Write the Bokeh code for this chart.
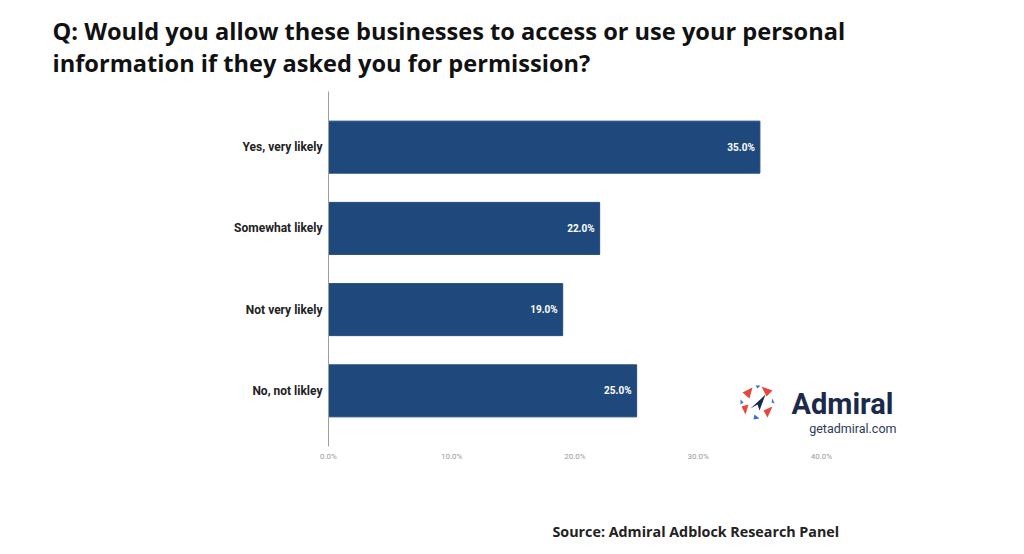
from bokeh.plotting import figure
from bokeh.models import (ColumnDataSource, FactorRange, Range1d, Label, Title,
                          FixedTicker, PolyAnnotation, LabelSet)
from bokeh.core.properties import value
from bokeh.embed import file_html
from bokeh.resources import INLINE

# ---- data ----
categories = ["Yes, very likely", "Somewhat likely", "Not very likely", "No, not likley"]
values = [35.0, 22.0, 19.0, 25.0]
tick_values = [0, 10, 20, 30, 40]
tick_labels = ["0.0%", "10.0%", "20.0%", "30.0%", "40.0%"]
title_lines = ["Q: Would you allow these businesses to access or use your personal",
               "information if they asked you for permission?"]
source_text = "Source:  Admiral Adblock Research Panel"

BAR = "#1f497d"
FRAME_LEFT = 328
PX_PER_UNIT = (821 - 328) / 40.0

src = ColumnDataSource(dict(
    cat=categories,
    val=values,
    lab=["%.1f%%" % v for v in values],
))

p = figure(
    width=1024, height=554, title=None,
    y_range=FactorRange(factors=list(reversed(categories)),
                        range_padding=0.185, range_padding_units="absolute"),
    x_range=Range1d(0, (1024 - FRAME_LEFT) / PX_PER_UNIT),
    output_backend="svg", toolbar_location=None,
    min_border_left=FRAME_LEFT, min_border_right=0,
    min_border_top=91, min_border_bottom=108,
)
p.outline_line_color = None
p.background_fill_color = "white"
p.border_fill_color = "white"
p.xgrid.visible = False
p.ygrid.visible = False

p.hbar(y="cat", right="val", left=0, height=0.64, source=src,
       fill_color=BAR, line_color=BAR)

p.add_layout(LabelSet(x="val", y="cat", text="lab", source=src,
                      x_offset=-5, text_align="right", text_baseline="middle",
                      text_color="white", text_font=value("Roboto"),
                      text_font_style="bold", text_font_size="10px"))

# y axis
ya = p.yaxis[0]
ya.axis_line_color = "#9e9e9e"
ya.axis_line_width = 1
ya.major_tick_line_color = None
ya.minor_tick_line_color = None
ya.major_tick_out = 0
ya.major_tick_in = 0
ya.major_label_standoff = 6
ya.major_label_text_font = "Roboto"
ya.major_label_text_font_style = "bold"
ya.major_label_text_font_size = "12px"
ya.major_label_text_color = "#222222"

# x axis
xa = p.xaxis[0]
xa.ticker = FixedTicker(ticks=tick_values)
xa.major_label_overrides = {t: l for t, l in zip(tick_values, tick_labels)}
xa.axis_line_color = None
xa.major_tick_line_color = None
xa.minor_tick_line_color = None
xa.major_tick_out = 0
xa.major_tick_in = 0
xa.major_label_standoff = 5
xa.major_label_text_font = "Roboto"
xa.major_label_text_font_size = "8px"
xa.major_label_text_color = "#9a9a9a"

# title (side panel)
p.add_layout(Title(text="\n".join(title_lines), align="left", offset=52 - FRAME_LEFT,
                   standoff=24, text_font="Open Sans", text_font_style="bold",
                   text_font_size="23.6px", text_line_height=1.03,
                   text_color="#111111"), "above")

# spacer below the x axis, then the source line
p.add_layout(Title(text=" ", standoff=51, text_font_size="1px"), "below")
p.add_layout(Title(text=source_text, align="left", offset=552 - FRAME_LEFT,
                   standoff=4, text_font="Open Sans", text_font_style="bold",
                   text_font_size="14.3px", text_color="#222222"), "below")

# logo text
p.add_layout(Label(x=791, y=403, x_units="canvas", y_units="canvas",
                   text="Admiral", text_font="Roboto", text_font_style="bold",
                   text_font_size="29px", text_color="#1b2a4a",
                   text_baseline="middle", text_align="left"))
p.add_layout(Label(x=896, y=428, x_units="canvas", y_units="canvas",
                   text="getadmiral.com", text_font="Roboto",
                   text_font_size="12.5px", text_color="#2b3b5b",
                   text_baseline="middle", text_align="right"))

# logo icon (decoration)
cx, cy = 757, 402
def poly(pts, color):
    p.add_layout(PolyAnnotation(xs=[cx + a for a, b in pts], ys=[cy + b for a, b in pts],
                                xs_units="canvas", ys_units="canvas",
                                fill_color=color, fill_alpha=1.0, line_color=None))
red = "#e8453c"
blue = "#3b6fd6"
poly([(-15, -10), (-5, -15), (-8, -4)], red)
poly([(4, -16), (15, -12), (9, -6)], red)
poly([(-16, 4), (-9, 2), (-12, 12)], red)
poly([(6, 8), (15, 4), (10, 15)], red)
poly([(-3, 12), (2, 16), (-4, 17)], blue)
poly([(-2, -17), (3, -17), (0, -14)], blue)
poly([(-17, -3), (-17, 2), (-14, 0)], blue)
poly([(15, -4), (17, 1), (14, 0)], blue)
poly([(-7, 6), (8, -8), (2, 8), (0, 2)], "#1b2a4a")

open("out.html", "w").write(file_html(p, INLINE))
